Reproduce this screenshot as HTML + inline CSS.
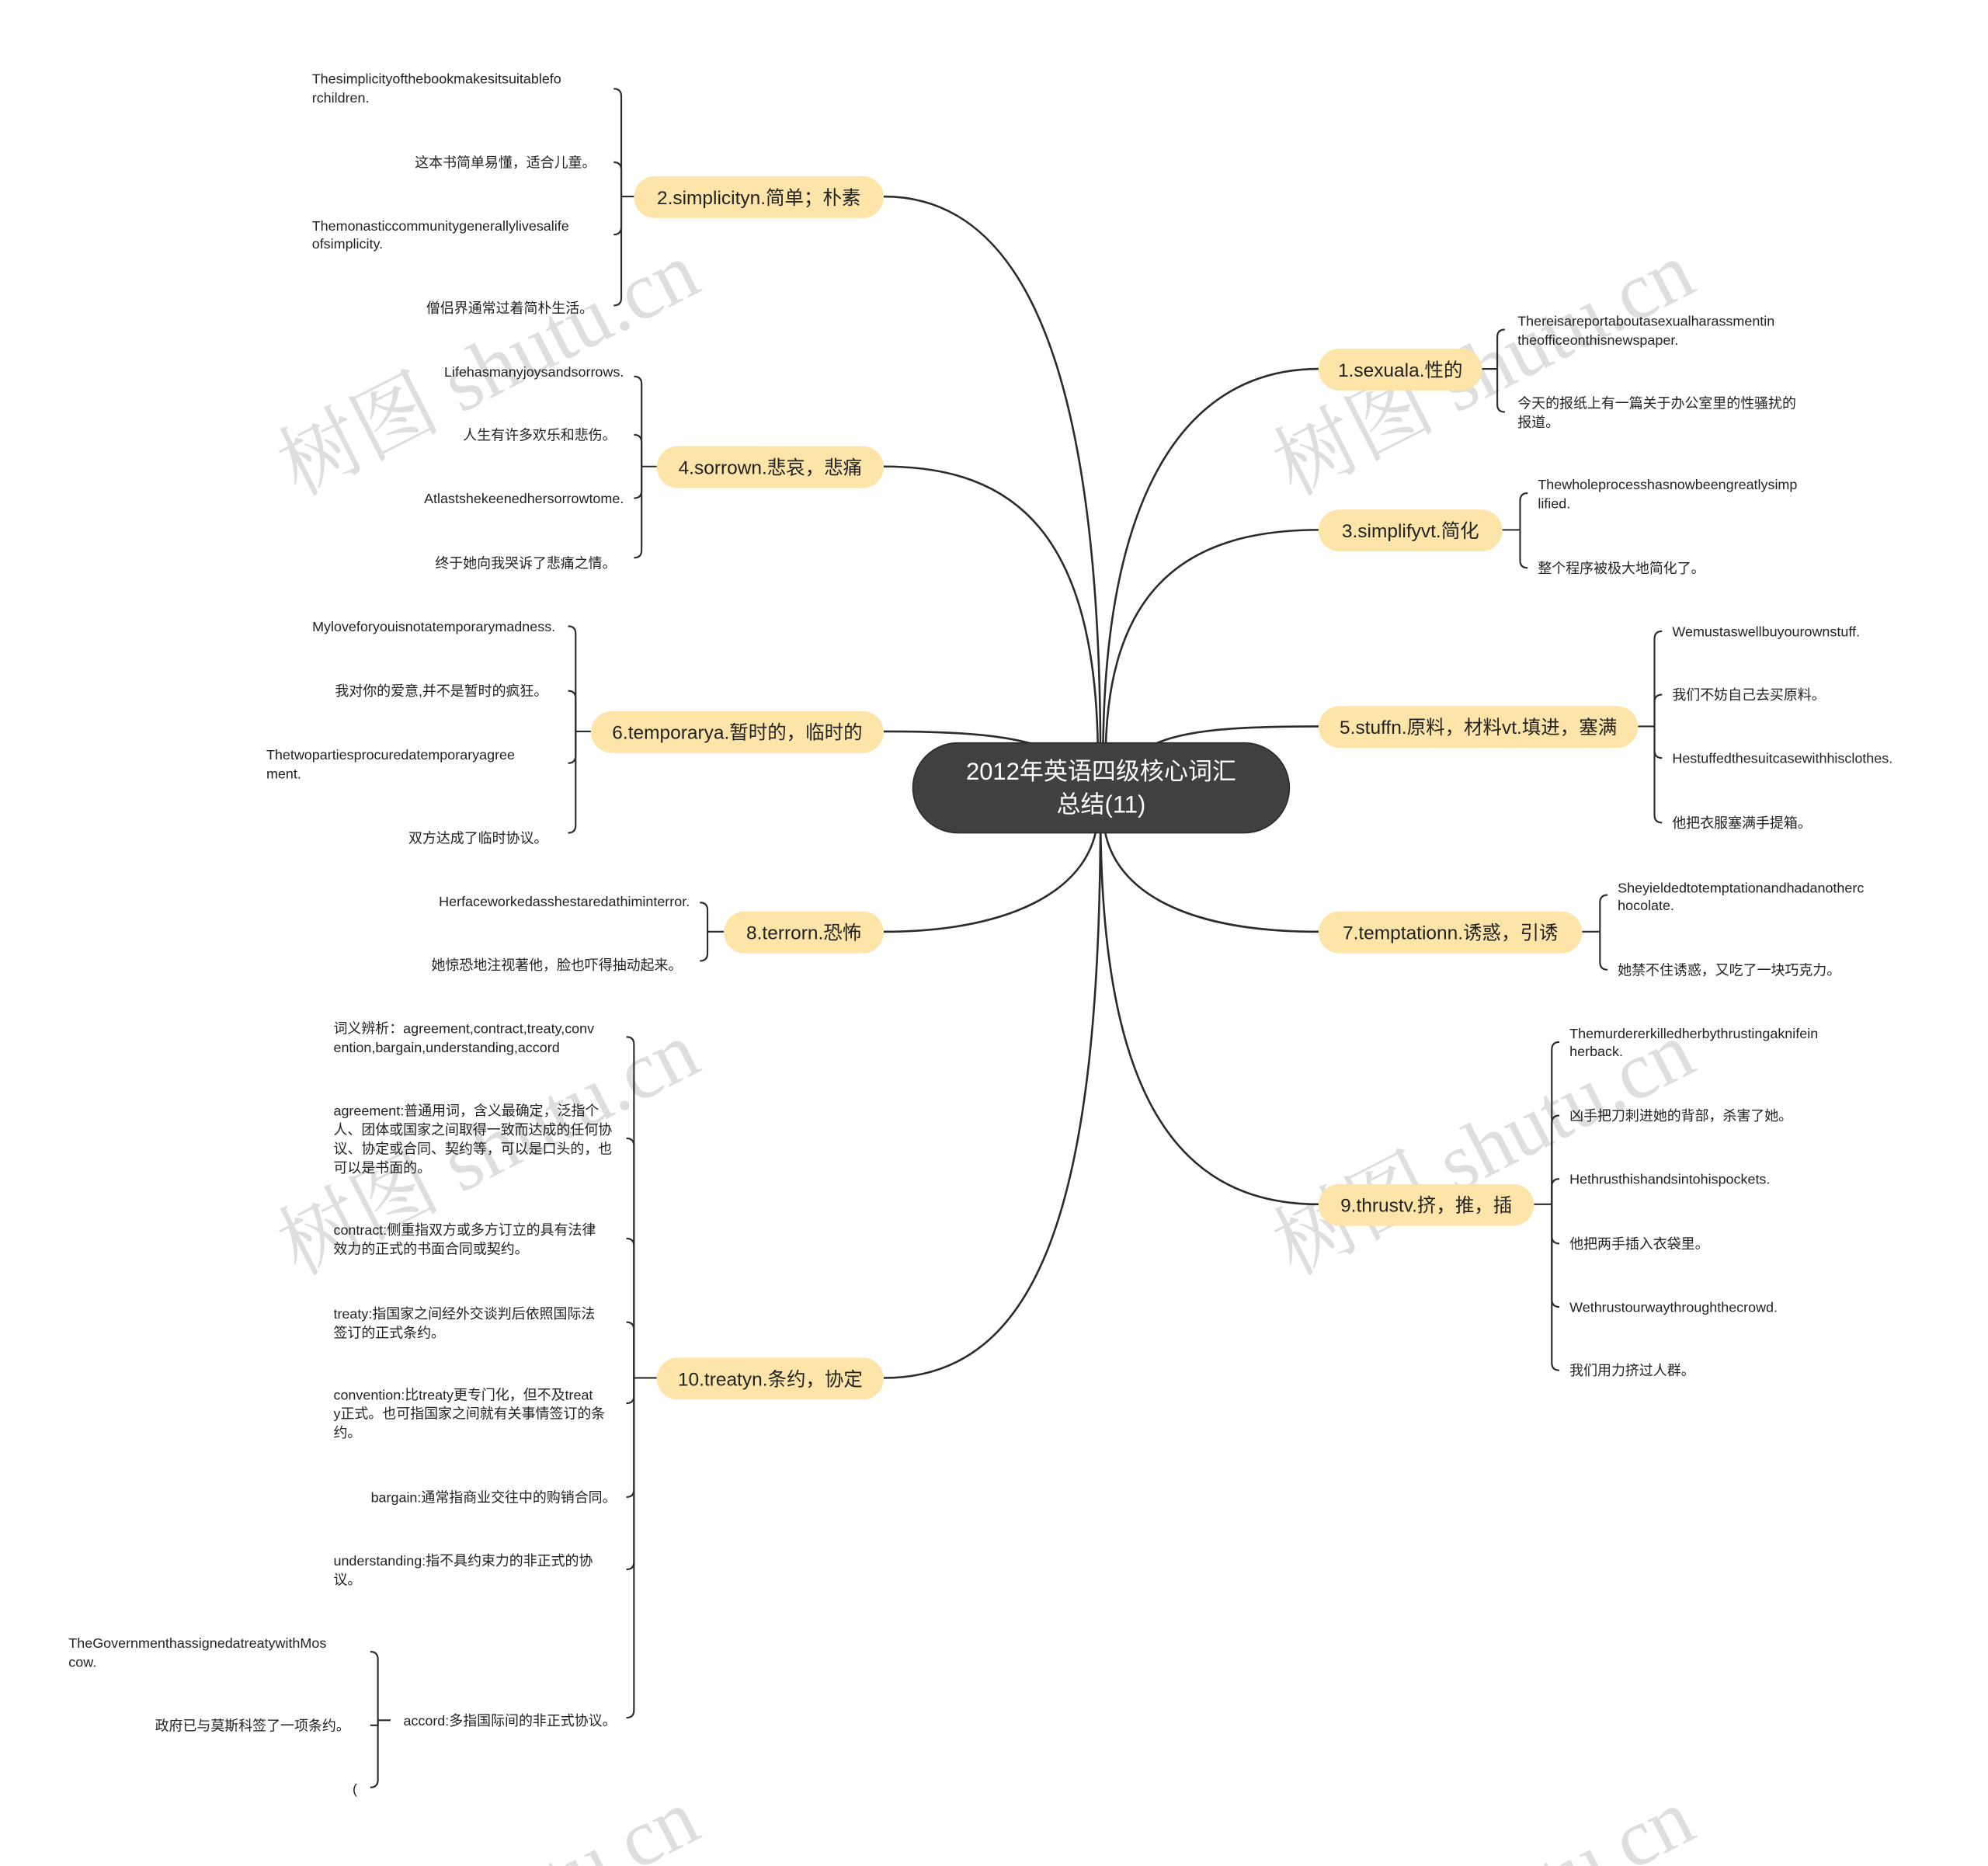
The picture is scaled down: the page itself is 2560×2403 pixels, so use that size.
<!DOCTYPE html>
<html><head><meta charset="utf-8"><style>
html,body{margin:0;padding:0;background:#fff;width:2560px;height:2403px;overflow:hidden;}
svg{display:block;position:absolute;left:0;top:0;}
text{font-family:"Liberation Sans","Noto Sans CJK SC",sans-serif;fill:#222;}
.l{font-size:11px;}
.b{font-size:15px;}
.wm{font-size:64px;fill:#d6d6d6;font-family:"Liberation Serif","Noto Serif CJK SC",serif;}
</style></head><body>
<svg width="2560" height="2403" viewBox="0 0 1568 1472" xmlns="http://www.w3.org/2000/svg" overflow="hidden">
<defs><clipPath id="c"><rect width="1568" height="1472"/></clipPath></defs>
<rect width="1568" height="1472" fill="#fff"/>
<g opacity="0.8" clip-path="url(#c)">
<text class="wm" transform="translate(395,310) rotate(-27)" text-anchor="middle">树图 shutu.cn</text>
<text class="wm" transform="translate(1180,310) rotate(-27)" text-anchor="middle">树图 shutu.cn</text>
<text class="wm" transform="translate(395,925) rotate(-27)" text-anchor="middle">树图 shutu.cn</text>
<text class="wm" transform="translate(1180,925) rotate(-27)" text-anchor="middle">树图 shutu.cn</text>
<text class="wm" transform="translate(395,1530) rotate(-27)" text-anchor="middle">树图 shutu.cn</text>
<text class="wm" transform="translate(1180,1530) rotate(-27)" text-anchor="middle">树图 shutu.cn</text>
</g>
<g fill="none" stroke="#2b2b2b" stroke-width="1.6">
<path d="M697 155 C790 155 868 250 868 600"/>
<path d="M697 368 C800 368 866 420 866 600"/>
<path d="M697 577 C760 577 800 580 830 592"/>
<path d="M697 735 C800 735 866 700 866 640"/>
<path d="M697 1087 C820 1087 868 950 868 640"/>
<path d="M1040 291 C940 291 870 380 870 600"/>
<path d="M1040 418 C930 418 872 470 872 600"/>
<path d="M1040 573 C980 573 930 575 905 590"/>
<path d="M1040 735 C930 735 870 700 870 640"/>
<path d="M1040 950 C920 950 868 850 868 640"/>
</g>
<g fill="none" stroke="#2b2b2b" stroke-width="1.3">
<path d="M500 155 H490"/>
<path d="M490 155 V76 Q490 70 484 70"/><path d="M490 155 V134 Q490 128 484 128"/>
<path d="M490 155 V179 Q490 185 484 185"/><path d="M490 155 V235 Q490 241 484 241"/>
<path d="M518 368 H506"/>
<path d="M506 368 V303 Q506 297 500 297"/><path d="M506 368 V349 Q506 343 500 343"/>
<path d="M506 368 V387 Q506 393 500 393"/><path d="M506 368 V434 Q506 440 500 440"/>
<path d="M466 577 H454"/>
<path d="M454 577 V500 Q454 494 448 494"/><path d="M454 577 V551 Q454 545 448 545"/>
<path d="M454 577 V596 Q454 602 448 602"/><path d="M454 577 V651 Q454 657 448 657"/>
<path d="M571 735 H558"/>
<path d="M558 735 V718 Q558 712 552 712"/><path d="M558 735 V752 Q558 758 552 758"/>
<path d="M518 1087 H500"/>
<path d="M500 1087 V824 Q500 818 494 818"/><path d="M500 1087 V904 Q500 898 494 898"/>
<path d="M500 1087 V983 Q500 977 494 977"/><path d="M500 1087 V1049 Q500 1043 494 1043"/>
<path d="M500 1087 V1101 Q500 1107 494 1107"/><path d="M500 1087 V1175 Q500 1181 494 1181"/>
<path d="M500 1087 V1232 Q500 1238 494 1238"/><path d="M500 1087 V1349 Q500 1355 494 1355"/>
<path d="M308 1357 H298"/>
<path d="M298 1357 V1309 Q298 1303 292 1303"/><path d="M298 1357 V1361 Q298 1361 292 1361"/>
<path d="M298 1357 V1404 Q298 1410 292 1410"/>
<path d="M1169 291 H1181"/>
<path d="M1181 291 V266 Q1181 260 1187 260"/><path d="M1181 291 V319 Q1181 325 1187 325"/>
<path d="M1185 418 H1199"/>
<path d="M1199 418 V395 Q1199 389 1205 389"/><path d="M1199 418 V442 Q1199 448 1205 448"/>
<path d="M1292 573 H1305"/>
<path d="M1305 573 V504 Q1305 498 1311 498"/><path d="M1305 573 V554 Q1305 548 1311 548"/>
<path d="M1305 573 V592 Q1305 598 1311 598"/><path d="M1305 573 V643 Q1305 649 1311 649"/>
<path d="M1248 735 H1262"/>
<path d="M1262 735 V712 Q1262 706 1268 706"/><path d="M1262 735 V759 Q1262 765 1268 765"/>
<path d="M1210 950 H1224"/>
<path d="M1224 950 V828 Q1224 822 1230 822"/><path d="M1224 950 V886 Q1224 880 1230 880"/>
<path d="M1224 950 V936 Q1224 930 1230 930"/><path d="M1224 950 V975 Q1224 981 1230 981"/>
<path d="M1224 950 V1025 Q1224 1031 1230 1031"/><path d="M1224 950 V1075 Q1224 1081 1230 1081"/>
</g>
<rect x="720" y="586" width="297" height="71" rx="35.5" fill="#404040" stroke="#2b2b2b" stroke-width="1"/>
<text x="868.5" y="615" text-anchor="middle" style="font-size:19px;fill:#fff">2012年英语四级核心词汇</text>
<text x="868.5" y="641" text-anchor="middle" style="font-size:19px;fill:#fff">总结(11)</text>
<g fill="#fde4a8">
<rect x="500" y="139" width="197" height="33" rx="16.5"/>
<rect x="518" y="352" width="179" height="33" rx="16.5"/>
<rect x="466" y="561" width="231" height="33" rx="16.5"/>
<rect x="571" y="719" width="126" height="33" rx="16.5"/>
<rect x="518" y="1071" width="179" height="33" rx="16.5"/>
<rect x="1040" y="275" width="129" height="33" rx="16.5"/>
<rect x="1040" y="402" width="145" height="33" rx="16.5"/>
<rect x="1040" y="557" width="252" height="33" rx="16.5"/>
<rect x="1040" y="719" width="208" height="33" rx="16.5"/>
<rect x="1040" y="934" width="170" height="33" rx="16.5"/>
</g>
<g text-anchor="middle">
<text class="b" x="598.5" y="161">2.simplicityn.简单；朴素</text>
<text class="b" x="607.5" y="374">4.sorrown.悲哀，悲痛</text>
<text class="b" x="581.5" y="583">6.temporarya.暂时的，临时的</text>
<text class="b" x="634" y="741">8.terrorn.恐怖</text>
<text class="b" x="607.5" y="1093">10.treatyn.条约，协定</text>
<text class="b" x="1104.5" y="297">1.sexuala.性的</text>
<text class="b" x="1112.5" y="424">3.simplifyvt.简化</text>
<text class="b" x="1166" y="579">5.stuffn.原料，材料vt.填进，塞满</text>
<text class="b" x="1144" y="741">7.temptationn.诱惑，引诱</text>
<text class="b" x="1125" y="956">9.thrustv.挤，推，插</text>
</g>
<g>
<text class="l" x="246" y="66">Thesimplicityofthebookmakesitsuitablefo</text>
<text class="l" x="246" y="81">rchildren.</text>
<text class="l" x="470" y="132" text-anchor="end">这本书简单易懂，适合儿童。</text>
<text class="l" x="246" y="182">Themonasticcommunitygenerallylivesalife</text>
<text class="l" x="246" y="196">ofsimplicity.</text>
<text class="l" x="468" y="247" text-anchor="end">僧侣界通常过着简朴生活。</text>
<text class="l" x="492" y="297" text-anchor="end">Lifehasmanyjoysandsorrows.</text>
<text class="l" x="486" y="347" text-anchor="end">人生有许多欢乐和悲伤。</text>
<text class="l" x="492" y="397" text-anchor="end">Atlastshekeenedhersorrowtome.</text>
<text class="l" x="486" y="448" text-anchor="end">终于她向我哭诉了悲痛之情。</text>
<text class="l" x="438" y="498" text-anchor="end">Myloveforyouisnotatemporarymadness.</text>
<text class="l" x="432" y="549" text-anchor="end">我对你的爱意,并不是暂时的疯狂。</text>
<text class="l" x="210" y="599">Thetwopartiesprocuredatemporaryagree</text>
<text class="l" x="210" y="614">ment.</text>
<text class="l" x="432" y="665" text-anchor="end">双方达成了临时协议。</text>
<text class="l" x="544" y="715" text-anchor="end">Herfaceworkedasshestaredathiminterror.</text>
<text class="l" x="538" y="765" text-anchor="end">她惊恐地注视著他，脸也吓得抽动起来。</text>
<text class="l" x="263" y="815">词义辨析：agreement,contract,treaty,conv</text>
<text class="l" x="263" y="830">ention,bargain,understanding,accord</text>
<text class="l" x="263" y="880">agreement:普通用词，含义最确定，泛指个</text>
<text class="l" x="263" y="895">人、团体或国家之间取得一致而达成的任何协</text>
<text class="l" x="263" y="910">议、协定或合同、契约等，可以是口头的，也</text>
<text class="l" x="263" y="925">可以是书面的。</text>
<text class="l" x="263" y="974">contract:侧重指双方或多方订立的具有法律</text>
<text class="l" x="263" y="989">效力的正式的书面合同或契约。</text>
<text class="l" x="263" y="1040">treaty:指国家之间经外交谈判后依照国际法</text>
<text class="l" x="263" y="1055">签订的正式条约。</text>
<text class="l" x="263" y="1104">convention:比treaty更专门化，但不及treat</text>
<text class="l" x="263" y="1119">y正式。也可指国家之间就有关事情签订的条</text>
<text class="l" x="263" y="1134">约。</text>
<text class="l" x="486" y="1185" text-anchor="end">bargain:通常指商业交往中的购销合同。</text>
<text class="l" x="263" y="1235">understanding:指不具约束力的非正式的协</text>
<text class="l" x="263" y="1250">议。</text>
<text class="l" x="486" y="1361" text-anchor="end">accord:多指国际间的非正式协议。</text>
<text class="l" x="54" y="1300">TheGovernmenthassignedatreatywithMos</text>
<text class="l" x="54" y="1315">cow.</text>
<text class="l" x="276" y="1365" text-anchor="end">政府已与莫斯科签了一项条约。</text>
<text class="l" x="278" y="1415">(</text>
</g>
<g>
<text class="l" x="1197" y="257">Thereisareportaboutasexualharassmentin</text>
<text class="l" x="1197" y="272">theofficeonthisnewspaper.</text>
<text class="l" x="1197" y="322">今天的报纸上有一篇关于办公室里的性骚扰的</text>
<text class="l" x="1197" y="337">报道。</text>
<text class="l" x="1213" y="386">Thewholeprocesshasnowbeengreatlysimp</text>
<text class="l" x="1213" y="401">lified.</text>
<text class="l" x="1213" y="452">整个程序被极大地简化了。</text>
<text class="l" x="1319" y="502">Wemustaswellbuyourownstuff.</text>
<text class="l" x="1319" y="552">我们不妨自己去买原料。</text>
<text class="l" x="1319" y="602">Hestuffedthesuitcasewithhisclothes.</text>
<text class="l" x="1319" y="653">他把衣服塞满手提箱。</text>
<text class="l" x="1276" y="704">Sheyieldedtotemptationandhadanotherc</text>
<text class="l" x="1276" y="718">hocolate.</text>
<text class="l" x="1276" y="769">她禁不住诱惑，又吃了一块巧克力。</text>
<text class="l" x="1238" y="819">Themurdererkilledherbythrustingaknifein</text>
<text class="l" x="1238" y="833">herback.</text>
<text class="l" x="1238" y="884">凶手把刀刺进她的背部，杀害了她。</text>
<text class="l" x="1238" y="934">Hethrusthishandsintohispockets.</text>
<text class="l" x="1238" y="985">他把两手插入衣袋里。</text>
<text class="l" x="1238" y="1035">Wethrustourwaythroughthecrowd.</text>
<text class="l" x="1238" y="1085">我们用力挤过人群。</text>
</g>
</svg>
</body></html>
